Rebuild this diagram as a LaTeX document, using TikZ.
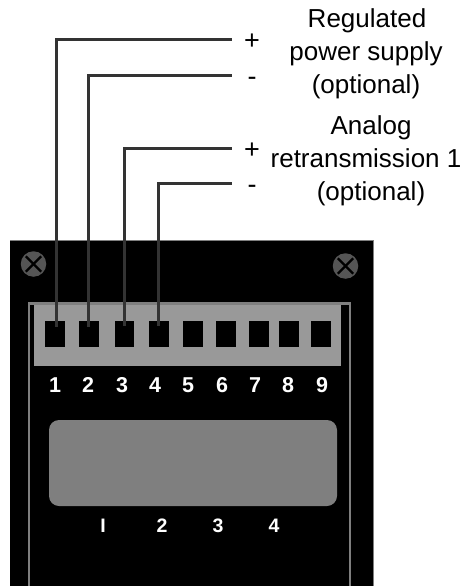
\documentclass[tikz,border=0pt]{standalone}
\usepackage{fontspec}
\setmainfont{Liberation Sans}

\definecolor{wireGray}{HTML}{333333}
\definecolor{stripGray}{HTML}{999999}
\definecolor{frameGray}{HTML}{7F7F7F}
\definecolor{screwGray}{HTML}{555555}

\begin{document}
\begin{tikzpicture}
[x=1pt,y=-1pt,
  wireDecorate/.style={-,line width=3pt,wireGray},%
  crossDecorate/.style={-,line width=2.4pt,black,shorten >=2pt,shorten <=2pt},%
  termDecorate/.style={shape=rectangle,fill=black,inner sep=0pt,minimum height=26.5pt},%
  digitDecorate/.style={text=white,inner sep=0pt,anchor=base,font=\bfseries\fontsize{21.5}{22}\selectfont},%
  readDecorate/.style={text=white,inner sep=0pt,anchor=base,font=\bfseries\fontsize{19.5}{20}\selectfont},%
  signDecorate/.style={inner sep=0pt,minimum width=40pt,text height=22pt,text depth=2pt,font=\fontsize{27}{27}\selectfont},%
  textDecorate/.style={inner sep=0pt,anchor=base,font=\fontsize{26}{26}\selectfont}]
\useasboundingbox (0,0) rectangle (468,586);
%% housing
\fill[black] (10,240) rectangle (373,586);
\draw[frameGray,line width=1pt] (10,240) -- (373,240) -- (373,586);
\draw[frameGray,line width=2.4pt] (29,586) -- (29,303.5) -- (350,303.5) -- (350,586);
%% screws
\foreach \nodename/\x/\y in {screwL/33.5/264, screwR/345.5/266}
{
  \node (\nodename) at (\x,\y) [shape=circle,fill=screwGray,minimum size=25.5pt,inner sep=0pt] {};
  \draw[crossDecorate] (\nodename.45) -- (\nodename.225);
  \draw[crossDecorate] (\nodename.135) -- (\nodename.315);
}
%% terminal strip and display
\node (strip) at (187.5,335.5) [fill=stripGray,inner sep=0pt,minimum width=307pt,minimum height=61pt] {};
\node (display) at (193,463) [fill=frameGray,rounded corners=10pt,inner sep=0pt,minimum width=288pt,minimum height=86pt] {};
%% terminals
\foreach \nodename/\x/\w/\lx in {1/55/20/55, 2/89/20/88, 3/124.5/19.5/122, 4/159/20/155, 5/192.5/20/188, 6/226/20/222, 7/259/20/255, 8/289/20/288, 9/321/20/322}
{
  \node (t\nodename) at (\x,334) [termDecorate,minimum width=\w pt] {};
  \node (n\nodename) at (\lx,392) [digitDecorate] {\nodename};
}
%% readout marks
\foreach \nodename/\x/\txt in {a/103/I, b/162/2, c/218/3, d/274/4}
{
  \node (r\nodename) at (\x,532) [readDecorate] {\txt};
}
%% signs
\foreach \nodename/\y/\txt in {1/40/+, 2/75/-, 3/148/+, 4/183/-}
{
  \node (s\nodename) at (252,\y) [signDecorate] {\txt};
}
%% captions
\foreach \nodename/\x/\y/\txt in {c1/367/28/Regulated, c2/366/61/power supply, c3/366/93/(optional), c4/371/134/Analog, c5/366/167/retransmission 1, c6/371/200/(optional)}
{
  \node (\nodename) at (\x,\y) [textDecorate] {\txt};
}
%% wires
\foreach \nodename/\x/\y in {1/56/327, 2/88/327, 3/124/326, 4/158/326}
{
  \coordinate (w\nodename) at (\x,\y);
  \draw[wireDecorate] (s\nodename.west) -| (w\nodename);
}
\end{tikzpicture}
\end{document}
